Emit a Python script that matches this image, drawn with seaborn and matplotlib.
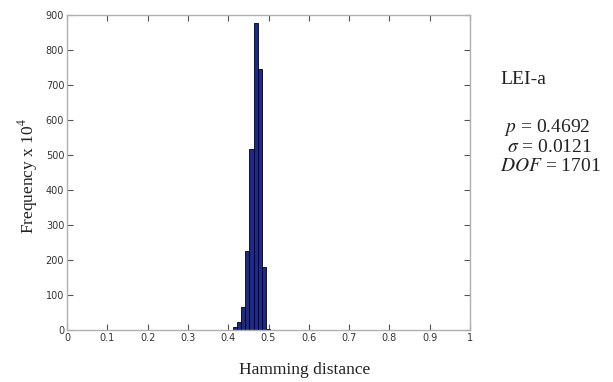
import numpy as np
import pandas as pd
import matplotlib
matplotlib.use("Agg")
import matplotlib.pyplot as plt
import seaborn as sns

# histogram of Hamming distances (bin centres and counts, x 10^4)
bin_centers = [0.418, 0.428, 0.438, 0.448, 0.458, 0.469, 0.479, 0.489, 0.499]
counts = [9, 22, 67, 226, 516, 878, 746, 179, 4]
bin_width = 0.0105

x_ticks = [0, 0.1, 0.2, 0.3, 0.4, 0.5, 0.6, 0.7, 0.8, 0.9, 1]
x_labels = ["0", "0.1", "0.2", "0.3", "0.4", "0.5", "0.6", "0.7", "0.8", "0.9", "1"]
y_ticks = [0, 100, 200, 300, 400, 500, 600, 700, 800, 900]

stats_title = "LEI-a"
stats_lines = [r"$p$ = 0.4692", r"$\sigma$ = 0.0121", r"$DOF$ = 1701"]

sns.set_style("white")
plt.rcParams["font.family"] = ["DejaVu Sans"]
plt.rcParams["mathtext.fontset"] = "stix"

fig = plt.figure(figsize=(6.13, 3.82), dpi=100)
ax = fig.add_axes([67 / 613, 1 - 330 / 382, 403 / 613, 315 / 382])

df = pd.DataFrame({"hd": bin_centers, "count": counts})
edges = [c - bin_width / 2 for c in bin_centers] + [bin_centers[-1] + bin_width / 2]
sns.histplot(data=df, x="hd", weights="count", bins=edges, ax=ax,
             color="#1c2a8c", edgecolor="black", linewidth=0.6, alpha=1)

ax.set_xlim(0, 1)
ax.set_ylim(0, 900)
ax.set_xticks(x_ticks)
ax.set_xticklabels(x_labels)
ax.set_yticks(y_ticks)
ax.tick_params(direction="in", length=4, width=0.8, labelsize=7,
               labelcolor="#333333", color="#555555", top=True, right=True,
               bottom=True, left=True, pad=2)
for s in ax.spines.values():
    s.set_color("#b0b0b0")
    s.set_linewidth(1.0)

serif = ["Liberation Serif", "DejaVu Serif"]
ax.set_xlabel("")
ax.set_ylabel("")
fig.text(305 / 613, 1 - 370 / 382, "Hamming distance", family=serif,
         fontsize=12.5, ha="center", va="center", color="#222222")
fig.text(28 / 613, 1 - 176 / 382, r"Frequency x 10$^4$", family=serif,
         fontsize=12.5, rotation=90, ha="center", va="center", color="#222222")

fig.text(500 / 613, 1 - 79 / 382, stats_title, family=serif, fontsize=14,
         ha="left", va="center", color="#222222")
stat_x = [504, 507, 500]
for i, line in enumerate(stats_lines):
    fig.text(stat_x[i] / 613, 1 - (127 + 20 * i) / 382, line, family=serif,
             fontsize=14, ha="left", va="center", color="#222222")

fig.savefig("out.png", dpi=100)
